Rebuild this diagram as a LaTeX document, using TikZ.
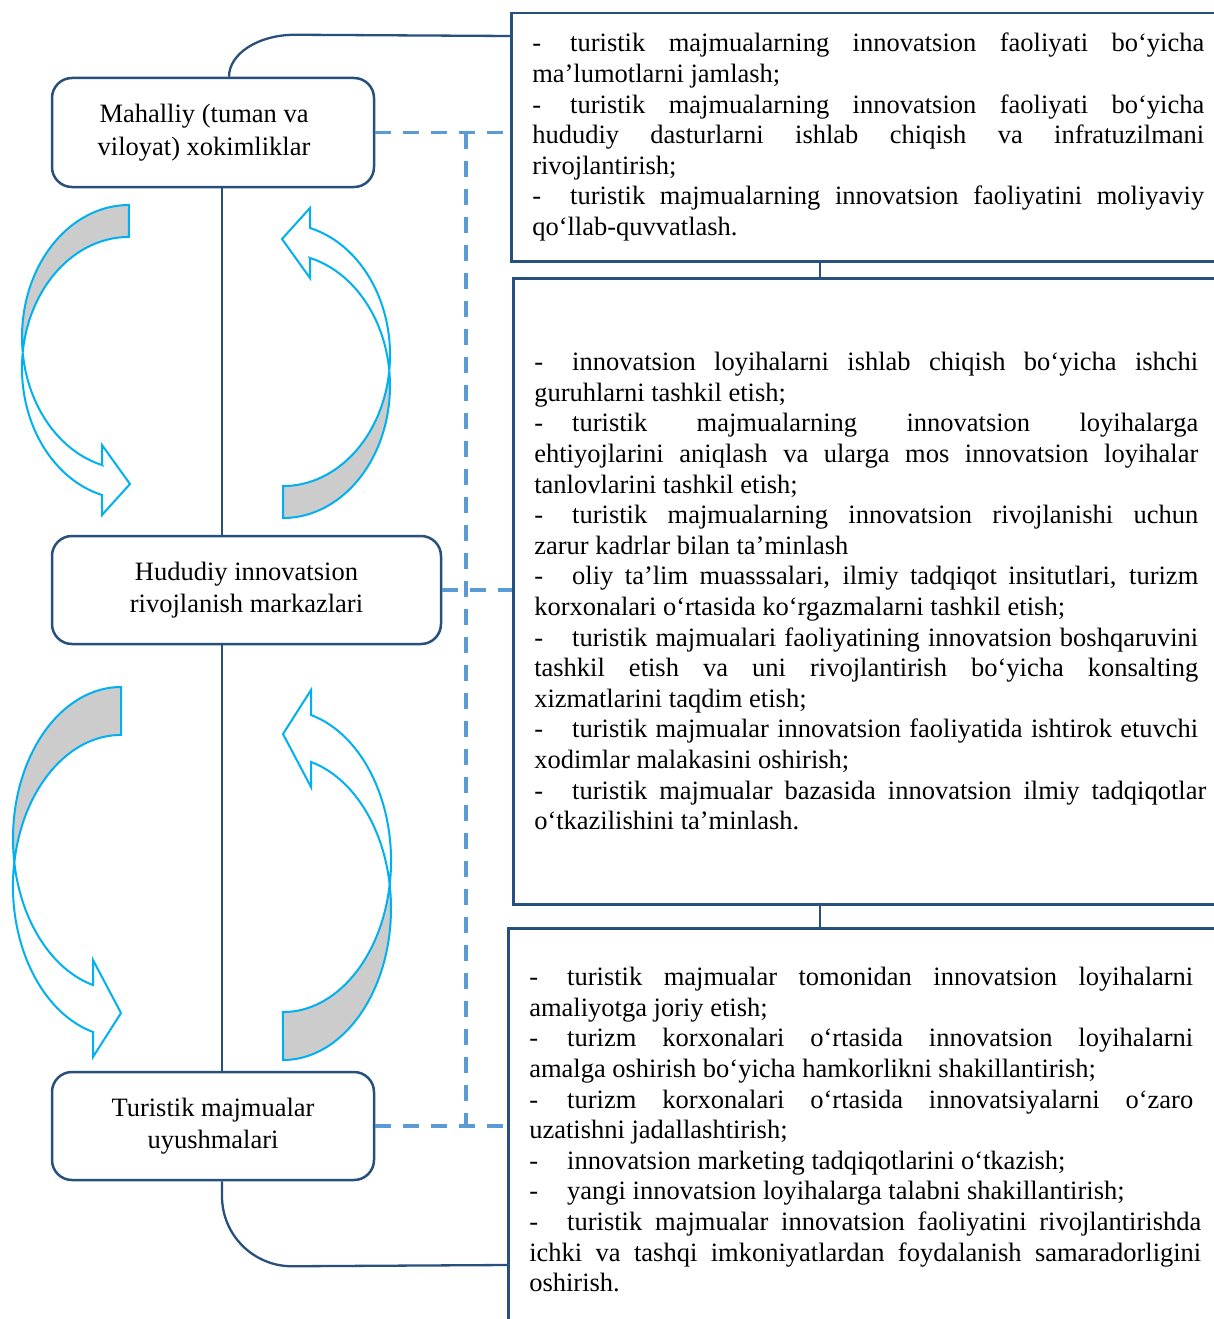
\documentclass[tikz,border=0pt]{standalone}
\usepackage{fontspec}
\setmainfont{Liberation Serif}
\usetikzlibrary{calc}
\definecolor{dblue}{RGB}{40,80,124}
\definecolor{dashblue}{RGB}{91,155,213}
\definecolor{cyanarrow}{RGB}{0,176,240}
\definecolor{greyfill}{RGB}{204,204,204}
\newcommand{\boxfontR}{\fontsize{26.5}{30.6}\selectfont}
\newcommand{\boxfontL}{\fontsize{26.5}{32.5}\selectfont}
\newcommand{\dashitem}{\makebox[38pt][l]{-}}
\newcommand{\parsetup}[1]{\rightskip=#1\relax\hyphenpenalty=10000\exhyphenpenalty=10000\tolerance=10000\emergencystretch=0pt\parindent=0pt\relax}
\newcommand{\arrowone}{%
  \filldraw[arr, fill=greyfill] (129,-205)
    arc[start angle=90, end angle=186.7, x radius=107, y radius=132.1]
    arc[start angle=173.2, end angle=90, x radius=107, y radius=131.1] -- cycle;
  \filldraw[arr, fill=white] (102,-465) -- (102,-445) -- (130,-484) -- (102,-515) -- (102,-495)
    arc[start angle=255.4, end angle=173.2, x radius=107, y radius=131.1]
    arc[start angle=186.7, end angle=255.4, x radius=107, y radius=132.1] -- cycle;}
\newcommand{\arrowtwo}{%
  \filldraw[arr, fill=greyfill] (121,-687)
    arc[start angle=90, end angle=189.03, x radius=108, y radius=151.6]
    arc[start angle=171.0, end angle=90, x radius=108, y radius=151.1] -- cycle;
  \filldraw[arr, fill=white] (93,-985) -- (93,-960) -- (121,-1013) -- (93,-1057) -- (93,-1032)
    arc[start angle=255, end angle=171.0, x radius=108, y radius=151.1]
    arc[start angle=189.03, end angle=255, x radius=108, y radius=151.6] -- cycle;}
\begin{document}
\begin{tikzpicture}[x=1pt,y=1pt,
  lbox/.style={draw=dblue, line width=2.5pt, rounded corners=20pt, fill=white, align=center, font=\boxfontL, inner sep=0pt},
  rbox/.style={draw=dblue, line width=2.5pt, anchor=north west, align=justify, inner xsep=21pt, inner ysep=0pt, text width=672pt, font=\boxfontR},
  conn/.style={draw=dblue, line width=2.3pt},
  dashc/.style={draw=dashblue, line width=3.5pt, dash pattern=on 16pt off 12pt},
  arr/.style={draw=cyanarrow, line width=2pt, line join=miter}]
\useasboundingbox (0,0) rectangle (1214,-1319);
\clip (0,0) rectangle (1214,-1319);

% right boxes
\node[rbox, minimum height=248pt] (r1) at (510,-12) {\parsetup{0pt}%
\dashitem turistik majmualarning innovatsion faoliyati bo‘yicha\linebreak ma’lumotlarni jamlash;\par
\dashitem turistik majmualarning innovatsion faoliyati bo‘yicha\linebreak hududiy dasturlarni ishlab chiqish va infratuzilmani\linebreak rivojlantirish;\par
\dashitem turistik majmualarning innovatsion faoliyatini moliyaviy\linebreak qo‘llab-quvvatlash.};

\node[rbox, minimum height=626pt] (r2) at (512,-277) {\parsetup{8pt}%
\dashitem innovatsion loyihalarni ishlab chiqish bo‘yicha ishchi\linebreak guruhlarni tashkil etish;\par
\dashitem turistik majmualarning innovatsion loyihalarga\linebreak ehtiyojlarini aniqlash va ularga mos innovatsion loyihalar\linebreak tanlovlarini tashkil etish;\par
\dashitem turistik majmualarning innovatsion rivojlanishi uchun\linebreak zarur kadrlar bilan ta’minlash\par
\dashitem oliy ta’lim muasssalari, ilmiy tadqiqot insitutlari, turizm\linebreak korxonalari o‘rtasida ko‘rgazmalarni tashkil etish;\par
\dashitem turistik majmualari faoliyatining innovatsion boshqaruvini\linebreak tashkil etish va uni rivojlantirish bo‘yicha konsalting\linebreak xizmatlarini taqdim etish;\par
\dashitem turistik majmualar innovatsion faoliyatida ishtirok etuvchi\linebreak xodimlar malakasini oshirish;\par
\dashitem turistik majmualar bazasida innovatsion ilmiy tadqiqotlar\linebreak o‘tkazilishini ta’minlash.};

\node[rbox, minimum height=403pt] (r3) at (507,-927) {\parsetup{8pt}%
\dashitem turistik majmualar tomonidan innovatsion loyihalarni\linebreak amaliyotga joriy etish;\par
\dashitem turizm korxonalari o‘rtasida innovatsion loyihalarni\linebreak amalga oshirish bo‘yicha hamkorlikni shakillantirish;\par
\dashitem turizm korxonalari o‘rtasida innovatsiyalarni o‘zaro\linebreak uzatishni jadallashtirish;\par
\dashitem innovatsion marketing tadqiqotlarini o‘tkazish;\par
\dashitem yangi innovatsion loyihalarga talabni shakillantirish;\par
\dashitem turistik majmualar innovatsion faoliyatini rivojlantirishda\linebreak ichki va tashqi imkoniyatlardan foydalanish samaradorligini\linebreak oshirish.};

% left boxes
\node[lbox, minimum width=322pt, minimum height=109pt] (A) at (213,-132.5)
  {Mahalliy (tuman va\hspace*{18pt}\\viloyat) xokimliklar\hspace*{18pt}};
\node[lbox, minimum width=389pt, minimum height=108pt] (B) at (246.5,-590)
  {Hududiy innovatsion\\rivojlanish markazlari};
\node[lbox, minimum width=322pt, minimum height=108pt] (C) at (213,-1126)
  {Turistik majmualar\\uyushmalari};

% solid connectors
\coordinate (sp) at (222,0);
\coordinate (lk) at (820,0);
\coordinate (dx) at (466,0);
\coordinate (topy) at (0,-36);
\coordinate (boty) at (0,-1265);
\draw[conn] (sp |- A.south) -- (sp |- B.north);
\draw[conn] (sp |- B.south) -- (sp |- C.north);
\draw[conn] ([xshift=16pt]A.north) arc[start angle=180, end angle=90, x radius=66, y radius=42] -- (r1.west |- topy);
\draw[conn] (sp |- C.south) -- ++(0,-15) arc[start angle=180, end angle=270, radius=70] -- (r3.west |- boty);
\draw[conn] (lk |- r1.south) -- (lk |- r2.north);
\draw[conn] (lk |- r2.south) -- (lk |- r3.north);

% dashed connectors
\draw[dashc] (A.east) -- (A.east -| r1.west);
\draw[dashc] (B.east) -- (B.east -| r2.west);
\draw[dashc] (C.east) -- (C.east -| r3.west);
\draw[dashc] (dx |- A.east) -- (dx |- C.east);

% curved arrows
\arrowone
\begin{scope}[rotate around={180:(206,-361.5)}]\arrowone\end{scope}
\arrowtwo
\begin{scope}[rotate around={180:(202,-873.5)}]\arrowtwo\end{scope}
\end{tikzpicture}
\end{document}
